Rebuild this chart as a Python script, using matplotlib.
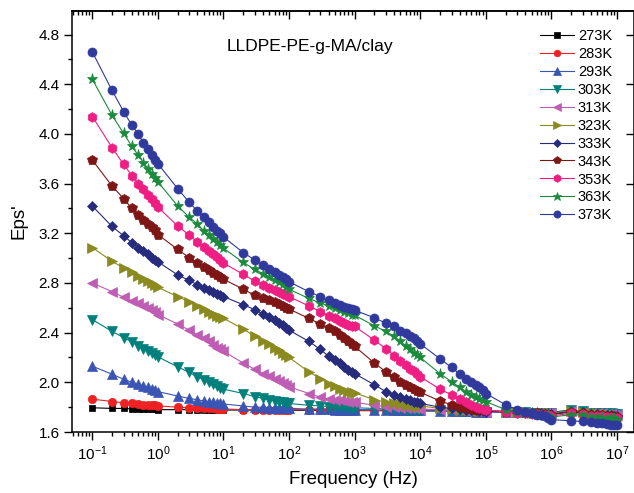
import matplotlib
matplotlib.use("Agg")
import matplotlib.pyplot as plt
import numpy as np
from matplotlib.ticker import FixedLocator, LogLocator, MultipleLocator, NullFormatter

plt.rcParams['font.family'] = ['Liberation Sans', 'DejaVu Sans']
plt.rcParams['mathtext.fontset'] = 'custom'
plt.rcParams['mathtext.rm'] = 'Liberation Sans'
plt.rcParams['mathtext.it'] = 'Liberation Sans'
plt.rcParams['axes.unicode_minus'] = False

# measurement grid: 1..9 x 10^k, 0.1 Hz .. 10 MHz
freq = [m * 10.0 ** e for e in range(-1, 7) for m in range(1, 10)] + [1e7]
decades = [1e-1, 1e0, 1e1, 1e2, 1e3, 1e4, 1e5, 1e6, 1e7]

labels = ['273K', '283K', '293K', '303K', '313K', '323K',
          '333K', '343K', '353K', '363K', '373K']

eps_273 = [
    1.795, 1.79, 1.79, 1.785, 1.785, 1.785, 1.785, 1.785, 1.785,
    1.78, 1.78, 1.78, 1.78, 1.78, 1.78, 1.78, 1.78, 1.78,
    1.777, 1.777, 1.777, 1.776, 1.776, 1.776, 1.776, 1.776, 1.775,
    1.775, 1.775, 1.775, 1.775, 1.775, 1.775, 1.775, 1.774, 1.774,
    1.772, 1.772, 1.772, 1.771, 1.771, 1.771, 1.771, 1.770, 1.770,
    1.77, 1.77, 1.77, 1.768, 1.768, 1.768, 1.767, 1.767, 1.767,
    1.765, 1.765, 1.765, 1.763, 1.763, 1.763, 1.762, 1.762, 1.762,
    1.76, 1.775, 1.77, 1.76, 1.76, 1.758, 1.758, 1.757, 1.756,
    1.755]
eps_283 = [
    1.865, 1.845, 1.835, 1.83, 1.825, 1.82, 1.82, 1.815, 1.815,
    1.81, 1.80, 1.795, 1.795, 1.79, 1.79, 1.79, 1.785, 1.785,
    1.785, 1.78, 1.78, 1.78, 1.78, 1.78, 1.78, 1.78, 1.78,
    1.78, 1.78, 1.78, 1.775, 1.775, 1.775, 1.775, 1.775, 1.775,
    1.775, 1.775, 1.775, 1.77, 1.77, 1.77, 1.77, 1.77, 1.77,
    1.77, 1.77, 1.765, 1.765, 1.765, 1.765, 1.765, 1.765, 1.765,
    1.765, 1.76, 1.76, 1.76, 1.755, 1.755, 1.755, 1.755, 1.755,
    1.75, 1.77, 1.765, 1.75, 1.75, 1.75, 1.745, 1.745, 1.745,
    1.745]
eps_293 = [
    2.13, 2.065, 2.025, 2.00, 1.985, 1.97, 1.96, 1.95, 1.94,
    1.925, 1.89, 1.87, 1.86, 1.85, 1.845, 1.84, 1.835, 1.83,
    1.825, 1.81, 1.80, 1.80, 1.795, 1.795, 1.79, 1.79, 1.79,
    1.79, 1.785, 1.785, 1.785, 1.78, 1.78, 1.78, 1.78, 1.78,
    1.78, 1.78, 1.775, 1.775, 1.775, 1.775, 1.775, 1.775, 1.775,
    1.775, 1.77, 1.77, 1.77, 1.77, 1.77, 1.765, 1.765, 1.765,
    1.765, 1.76, 1.76, 1.76, 1.76, 1.76, 1.755, 1.755, 1.755,
    1.755, 1.775, 1.77, 1.755, 1.755, 1.755, 1.75, 1.75, 1.75,
    1.75]
eps_303 = [
    2.505, 2.41, 2.36, 2.325, 2.295, 2.27, 2.25, 2.235, 2.22,
    2.205, 2.125, 2.08, 2.045, 2.02, 2.00, 1.985, 1.97, 1.955,
    1.945, 1.91, 1.885, 1.87, 1.86, 1.85, 1.845, 1.84, 1.835,
    1.83, 1.815, 1.81, 1.805, 1.80, 1.80, 1.80, 1.795, 1.795,
    1.795, 1.79, 1.785, 1.785, 1.785, 1.78, 1.78, 1.78, 1.78,
    1.78, 1.775, 1.775, 1.77, 1.77, 1.77, 1.77, 1.77, 1.765,
    1.765, 1.76, 1.76, 1.76, 1.755, 1.755, 1.755, 1.755, 1.755,
    1.755, 1.775, 1.77, 1.755, 1.755, 1.75, 1.75, 1.75, 1.745,
    1.745]
eps_313 = [
    2.80, 2.73, 2.685, 2.655, 2.635, 2.615, 2.595, 2.58, 2.565,
    2.545, 2.47, 2.42, 2.38, 2.355, 2.33, 2.30, 2.28, 2.265,
    2.25, 2.155, 2.105, 2.07, 2.05, 2.03, 2.01, 1.995, 1.98,
    1.965, 1.91, 1.88, 1.865, 1.86, 1.855, 1.85, 1.845, 1.845,
    1.84, 1.815, 1.805, 1.80, 1.795, 1.795, 1.79, 1.79, 1.79,
    1.785, 1.78, 1.775, 1.775, 1.77, 1.77, 1.77, 1.77, 1.765,
    1.765, 1.76, 1.76, 1.755, 1.755, 1.755, 1.755, 1.75, 1.75,
    1.75, 1.77, 1.765, 1.75, 1.75, 1.75, 1.745, 1.745, 1.74,
    1.74]
eps_323 = [
    3.085, 2.975, 2.92, 2.885, 2.855, 2.835, 2.815, 2.80, 2.78,
    2.765, 2.69, 2.65, 2.615, 2.59, 2.57, 2.55, 2.535, 2.525,
    2.515, 2.43, 2.37, 2.33, 2.305, 2.28, 2.26, 2.24, 2.22,
    2.20, 2.085, 2.03, 1.99, 1.97, 1.95, 1.935, 1.925, 1.92,
    1.915, 1.86, 1.84, 1.83, 1.825, 1.82, 1.815, 1.815, 1.81,
    1.81, 1.79, 1.785, 1.78, 1.78, 1.775, 1.775, 1.77, 1.77,
    1.77, 1.765, 1.76, 1.76, 1.755, 1.755, 1.755, 1.75, 1.75,
    1.75, 1.77, 1.765, 1.75, 1.75, 1.745, 1.745, 1.74, 1.74,
    1.735]
eps_333 = [
    3.42, 3.255, 3.18, 3.125, 3.085, 3.055, 3.03, 3.005, 2.985,
    2.97, 2.865, 2.82, 2.785, 2.76, 2.745, 2.725, 2.71, 2.70,
    2.69, 2.625, 2.585, 2.55, 2.525, 2.50, 2.48, 2.46, 2.44,
    2.42, 2.33, 2.265, 2.21, 2.18, 2.155, 2.125, 2.10, 2.085,
    2.07, 1.98, 1.925, 1.90, 1.88, 1.865, 1.855, 1.845, 1.84,
    1.83, 1.80, 1.79, 1.785, 1.78, 1.775, 1.775, 1.77, 1.77,
    1.765, 1.76, 1.755, 1.755, 1.75, 1.75, 1.75, 1.745, 1.745,
    1.745, 1.765, 1.76, 1.745, 1.745, 1.74, 1.735, 1.735, 1.73,
    1.73]
eps_343 = [
    3.79, 3.58, 3.48, 3.40, 3.345, 3.31, 3.275, 3.25, 3.225,
    3.19, 3.07, 3.005, 2.96, 2.93, 2.905, 2.88, 2.865, 2.845,
    2.83, 2.75, 2.70, 2.68, 2.66, 2.645, 2.63, 2.615, 2.60,
    2.59, 2.515, 2.47, 2.435, 2.41, 2.38, 2.355, 2.33, 2.31,
    2.29, 2.155, 2.085, 2.045, 2.005, 1.98, 1.965, 1.945, 1.93,
    1.92, 1.85, 1.82, 1.80, 1.79, 1.785, 1.78, 1.78, 1.775,
    1.775, 1.765, 1.76, 1.755, 1.75, 1.75, 1.745, 1.745, 1.74,
    1.74, 1.76, 1.755, 1.74, 1.74, 1.735, 1.73, 1.73, 1.725,
    1.72]
eps_353 = [
    4.14, 3.89, 3.755, 3.665, 3.60, 3.555, 3.51, 3.48, 3.445,
    3.41, 3.26, 3.185, 3.13, 3.09, 3.06, 3.035, 3.01, 2.985,
    2.96, 2.87, 2.815, 2.785, 2.76, 2.745, 2.73, 2.715, 2.70,
    2.69, 2.615, 2.57, 2.535, 2.515, 2.49, 2.475, 2.46, 2.455,
    2.45, 2.34, 2.27, 2.215, 2.17, 2.14, 2.11, 2.09, 2.07,
    2.045, 1.945, 1.90, 1.865, 1.845, 1.82, 1.805, 1.795, 1.785,
    1.78, 1.76, 1.755, 1.75, 1.745, 1.745, 1.74, 1.74, 1.735,
    1.73, 1.75, 1.745, 1.73, 1.73, 1.725, 1.72, 1.72, 1.715,
    1.71]
eps_363 = [
    4.44, 4.15, 4.005, 3.90, 3.83, 3.77, 3.72, 3.675, 3.645,
    3.615, 3.42, 3.33, 3.275, 3.22, 3.19, 3.155, 3.13, 3.105,
    3.08, 2.965, 2.91, 2.875, 2.85, 2.825, 2.81, 2.79, 2.77,
    2.75, 2.675, 2.64, 2.615, 2.595, 2.58, 2.565, 2.555, 2.545,
    2.54, 2.455, 2.41, 2.37, 2.33, 2.295, 2.265, 2.24, 2.22,
    2.20, 2.07, 2.005, 1.96, 1.925, 1.90, 1.885, 1.865, 1.855,
    1.845, 1.78, 1.76, 1.75, 1.745, 1.74, 1.735, 1.73, 1.73,
    1.72, 1.74, 1.735, 1.72, 1.72, 1.715, 1.715, 1.71, 1.71,
    1.70]
eps_373 = [
    4.66, 4.35, 4.18, 4.07, 4.00, 3.93, 3.88, 3.83, 3.79,
    3.76, 3.56, 3.45, 3.38, 3.33, 3.29, 3.25, 3.22, 3.20,
    3.17, 3.045, 2.985, 2.945, 2.91, 2.89, 2.865, 2.85, 2.83,
    2.81, 2.73, 2.69, 2.66, 2.64, 2.62, 2.61, 2.60, 2.59,
    2.58, 2.52, 2.475, 2.45, 2.415, 2.395, 2.37, 2.355, 2.33,
    2.31, 2.19, 2.12, 2.067, 2.03, 2.005, 1.98, 1.965, 1.94,
    1.91, 1.82, 1.78, 1.765, 1.75, 1.74, 1.735, 1.725, 1.715,
    1.70, 1.69, 1.685, 1.68, 1.675, 1.67, 1.665, 1.66, 1.66,
    1.655]

series = [eps_273, eps_283, eps_293, eps_303, eps_313, eps_323,
          eps_333, eps_343, eps_353, eps_363, eps_373]
colors = ['#000000', '#ee2222', '#3a55b4', '#00807d', '#bf5cb4', '#8a8a1e',
          '#262b7c', '#7e1616', '#ee1e82', '#1b8a3c', '#2f3a9c']
markers = ['s', 'o', '^', 'v', '<', '>', 'D', 'p', 'h', '*', 'o']
msizes = [5, 6, 6.5, 6.5, 6.5, 6.5, 5, 7, 7, 8, 6.5]

fig = plt.figure(figsize=(6.34, 4.93), dpi=100)
ax = fig.add_axes([72 / 634, 61 / 493, 562 / 634, 421 / 493])

for y, c, m, ms, lab in zip(series, colors, markers, msizes, labels):
    ax.plot(freq, y, color=c, lw=0.8, marker=m, ms=ms, mfc=c, mec=c,
            mew=0.5, label=lab)

ax.set_xscale('log')
ax.set_xlim(10 ** -1.31, 10 ** 7.26)
ax.set_ylim(1.6, 4.99)

ax.yaxis.set_major_locator(MultipleLocator(0.4))
ax.yaxis.set_minor_locator(MultipleLocator(0.2))
ax.yaxis.set_major_formatter(plt.FormatStrFormatter('%.1f'))
ax.xaxis.set_major_locator(FixedLocator(decades))
ax.xaxis.set_minor_locator(LogLocator(base=10, subs=np.arange(2, 10), numticks=20))
ax.xaxis.set_minor_formatter(NullFormatter())

ax.tick_params(which='major', direction='out', length=5.5, width=1, labelsize=11)
ax.tick_params(which='minor', direction='out', length=3, width=1)
for s in ax.spines.values():
    s.set_linewidth(1.1)

top = ax.secondary_xaxis('top')
top.xaxis.set_major_locator(FixedLocator(decades))
top.xaxis.set_minor_locator(LogLocator(base=10, subs=np.arange(2, 10), numticks=20))
top.tick_params(which='major', direction='in', length=5.5, width=1, labeltop=False)
top.tick_params(which='minor', direction='in', length=3, width=1)
top.xaxis.set_minor_formatter(NullFormatter())
top.spines['top'].set_linewidth(1.1)

right = ax.secondary_yaxis('right')
right.yaxis.set_major_locator(MultipleLocator(0.4))
right.yaxis.set_minor_locator(plt.NullLocator())
right.tick_params(which='major', direction='in', length=5.5, width=1, labelright=False)

ax.set_xlabel('Frequency (Hz)', fontsize=13.5, labelpad=6)
ax.set_ylabel("Eps'", fontsize=13.5, labelpad=8)
ax.text((227 - 72) / 562, (432 - 47) / 421, 'LLDPE-PE-g-MA/clay',
        transform=ax.transAxes, fontsize=12.5, va='center', ha='left')

ax.legend(loc='upper left', bbox_to_anchor=(540 / 634, 1 - 29 / 493),
          bbox_transform=fig.transFigure, frameon=False, fontsize=10.5,
          handlelength=2.3, handletextpad=0.3, labelspacing=0.27,
          borderpad=0, borderaxespad=0, markerscale=0.8)

fig.savefig('out.png', dpi=100)
